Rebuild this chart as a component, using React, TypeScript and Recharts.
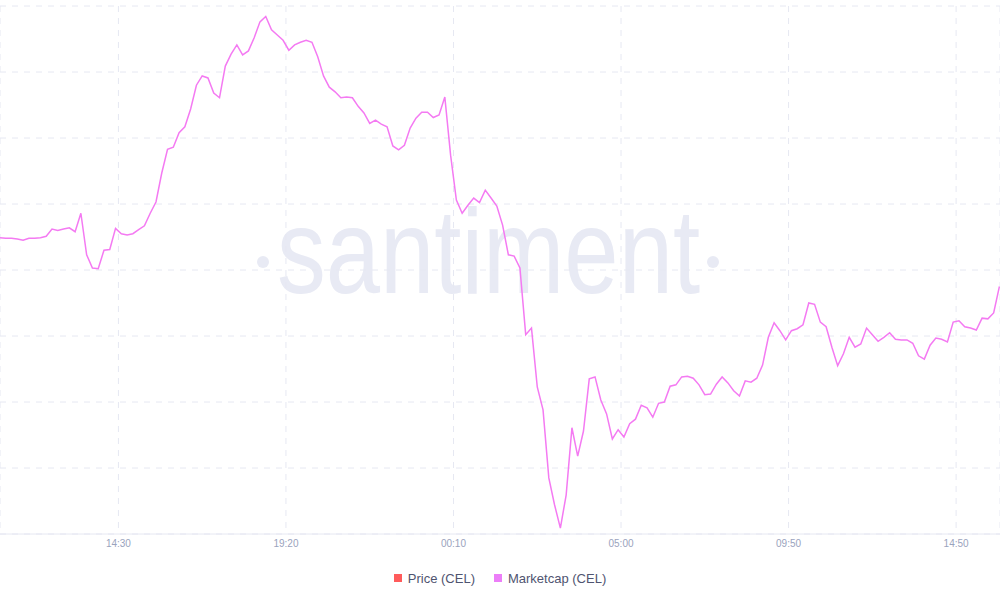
import * as React from "react";
import {
  LineChart,
  Line,
  XAxis,
  YAxis,
  CartesianGrid,
  Legend,
} from "recharts";

// Marketcap (CEL), one reading every 10 minutes, in $M
const marketcap = [
  244.9, 244.8, 244.8, 244.7, 244.5, 244.8, 244.8, 244.9, 245.1, 246.2,
  246.0, 246.2, 246.4, 245.8, 248.6, 242.3, 240.3, 240.2, 243.0, 243.1,
  246.3, 245.5, 245.3, 245.5, 246.1, 246.7, 248.6, 250.3, 254.7, 258.3,
  258.6, 260.8, 261.7, 264.4, 268.0, 269.4, 269.1, 266.8, 266.1, 270.9,
  272.7, 274.1, 272.6, 273.2, 275.2, 277.6, 278.4, 276.4, 275.6, 274.8,
  273.3, 274.1, 274.5, 274.8, 274.5, 272.3, 269.4, 267.7, 267.0, 266.1,
  266.2, 266.1, 264.8, 263.8, 262.2, 262.7, 262.1, 261.7, 258.8, 258.2,
  258.9, 261.5, 263.0, 263.9, 263.9, 263.1, 263.5, 266.2, 257.4, 250.6,
  248.6, 249.8, 250.9, 250.2, 252.1, 250.9, 249.7, 246.8, 242.3, 242.1,
  240.3, 230.2, 231.2, 222.3, 218.8, 208.5, 204.4, 200.9, 205.9, 216.1,
  211.8, 215.6, 223.5, 223.8, 220.3, 218.2, 214.4, 215.8, 214.7, 216.7,
  217.4, 219.5, 219.1, 217.7, 219.8, 220.0, 222.4, 222.6, 223.8, 223.9,
  223.6, 222.6, 221.1, 221.2, 222.7, 223.8, 222.9, 221.7, 220.9, 223.2,
  223.0, 223.6, 225.6, 229.8, 232.0, 230.8, 229.4, 230.8, 231.1, 231.7,
  235.0, 234.8, 232.1, 231.4, 228.3, 225.5, 227.3, 229.8, 228.3, 228.8,
  231.2, 230.2, 229.2, 229.8, 230.5, 229.5, 229.4, 229.4, 228.9, 227.0,
  226.5, 228.6, 229.7, 229.5, 229.1, 232.1, 232.3, 231.4, 231.2, 230.9,
  232.7, 232.6, 233.5, 237.5,
];

const stepMinutes = 10;
const xDomain = [0, 1731];

// minutes since the first reading, and their labels
const xTickMinutes = [205, 495, 785, 1075, 1365, 1655];
const xTickLabels = ["14:30", "19:20", "00:10", "05:00", "09:50", "14:50"];

const yTicks = [200, 210, 220, 230, 240, 250, 260, 270, 280];

const legendItems = [
  { label: "Price (CEL)", color: "#ff5b5b" },
  { label: "Marketcap (CEL)", color: "#ec7ef8" },
];

const LINE_COLOR = "#f47af2";
const GRID_COLOR = "#e6e8f2";

const chartData = marketcap.map((v, i) => ({ t: i * stepMinutes, marketcap: v }));

function LegendContent() {
  return (
    <div
      style={{
        display: "flex",
        justifyContent: "center",
        alignItems: "center",
        height: 20,
        fontFamily: "'Liberation Sans', Arial, sans-serif",
        fontSize: 13,
        color: "#4f5470",
      }}
    >
      {legendItems.map((item, idx) => (
        <div
          key={item.label}
          style={{ display: "flex", alignItems: "center", marginLeft: idx ? 19 : 0 }}
        >
          <span
            style={{ width: 8, height: 8, background: item.color, marginRight: 6, display: "inline-block" }}
          />
          <span>{item.label}</span>
        </div>
      ))}
    </div>
  );
}

function Watermark() {
  return (
    <svg
      width={1000}
      height={600}
      style={{ position: "absolute", left: 0, top: 0 }}
    >
      <circle cx={263} cy={262} r={6} fill="#e8eaf4" />
      <text
        x={277}
        y={293}
        fontFamily="'Liberation Sans Narrow', 'Liberation Sans', sans-serif"
        fontSize={121}
        fill="#e8eaf4"
        textLength={423}
        lengthAdjust="spacingAndGlyphs"
      >
        santiment
      </text>
      <circle cx={713} cy={262} r={6} fill="#e8eaf4" />
    </svg>
  );
}

export default function App() {
  const labelFor = (v: number) => {
    const idx = xTickMinutes.indexOf(v);
    return idx >= 0 ? xTickLabels[idx] : "";
  };

  return (
    <div style={{ position: "relative", width: 1000, height: 600, background: "#fff" }}>
      <style>{"body{margin:0}"}</style>
      <Watermark />
      <LineChart
        width={1000}
        height={600}
        data={chartData}
        margin={{ top: 6, right: 0, left: 0, bottom: 12 }}
      >
        <CartesianGrid stroke={GRID_COLOR} strokeDasharray="6 6" />
        <XAxis
          dataKey="t"
          type="number"
          domain={xDomain}
          ticks={xTickMinutes}
          tickFormatter={labelFor}
          height={34}
          stroke={GRID_COLOR}
          tickLine={false}
          tickSize={4}
          tickMargin={2}
          tick={{ fill: "#9aa3bd", fontSize: 10, fontFamily: "'Liberation Sans', Arial, sans-serif" }}
        />
        <YAxis hide domain={[200, 280]} ticks={yTicks} />
        <Legend verticalAlign="bottom" content={<LegendContent />} />
        <Line
          type="linear"
          dataKey="marketcap"
          stroke={LINE_COLOR}
          strokeWidth={1.5}
          dot={false}
          isAnimationActive={false}
        />
      </LineChart>
    </div>
  );
}
